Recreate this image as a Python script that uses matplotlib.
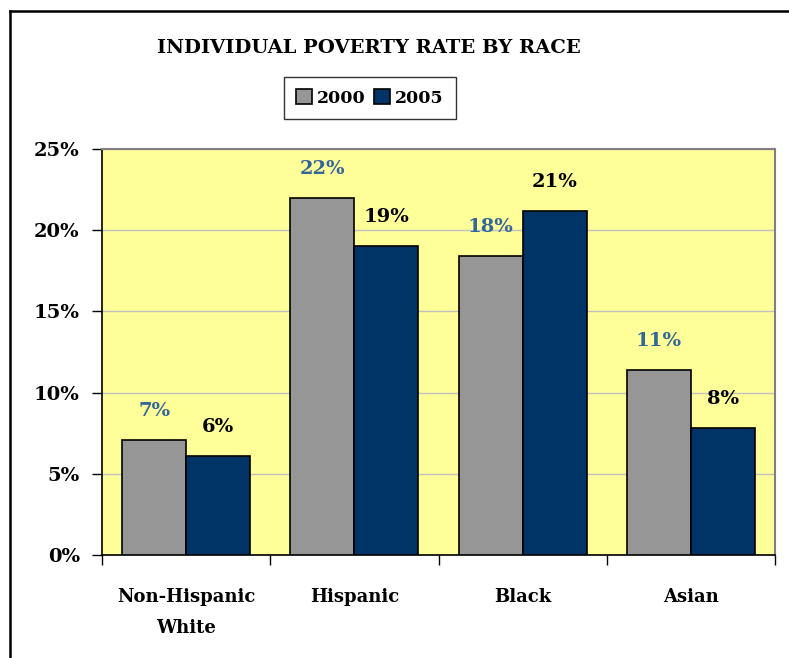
import matplotlib
matplotlib.use("Agg")
import matplotlib.pyplot as plt
from matplotlib.lines import Line2D
from matplotlib.patches import Patch
import numpy as np

categories = ["Non-Hispanic\nWhite", "Hispanic", "Black", "Asian"]
series_names = ["2000", "2005"]
values_2000 = [7.1, 22.0, 18.4, 11.4]
values_2005 = [6.1, 19.0, 21.2, 7.8]
labels_2000 = ["7%", "22%", "18%", "11%"]
labels_2005 = ["6%", "19%", "21%", "8%"]
yticks = [0, 5, 10, 15, 20, 25]
ytick_labels = ["0%", "5%", "10%", "15%", "20%", "25%"]
title = "INDIVIDUAL POVERTY RATE BY RACE"

W, H = 789, 658
fig = plt.figure(figsize=(W / 100, H / 100), dpi=100)
FONT = "DejaVu Serif"

# figure frame (top and left visible)
fig.add_artist(Line2D([10 / W, 1.0], [1 - 11 / H, 1 - 11 / H], transform=fig.transFigure,
                      color="black", lw=1.8))
fig.add_artist(Line2D([10 / W, 10 / W], [0, 1 - 11 / H], transform=fig.transFigure,
                      color="black", lw=1.8))

ax = fig.add_axes([102 / W, (H - 555) / H, (775 - 102) / W, (555 - 149) / H])
ax.set_facecolor("#FFFF99")

x = np.arange(len(categories))
bw = 64 / 168
c2000 = "#969696"
c2005 = "#003366"
ax.bar(x - bw / 2, values_2000, bw, color=c2000, edgecolor="black", lw=1.2, zorder=3)
ax.bar(x + bw / 2, values_2005, bw, color=c2005, edgecolor="black", lw=1.2, zorder=3)

for i in range(len(categories)):
    ax.annotate(labels_2000[i], (x[i] - bw / 2, values_2000[i]), xytext=(0, 21),
                textcoords="offset points", ha="center", va="center",
                fontsize=14, fontweight="bold", family=FONT, color="#336699")
    ax.annotate(labels_2005[i], (x[i] + bw / 2, values_2005[i]), xytext=(0, 21),
                textcoords="offset points", ha="center", va="center",
                fontsize=14, fontweight="bold", family=FONT, color="black")

ax.set_xlim(-0.5, len(categories) - 0.5)
ax.set_ylim(0, 25)
ax.set_yticks(yticks)
ax.set_yticklabels(ytick_labels, fontsize=14, fontweight="bold", family=FONT)
ax.set_xticks(x)
ax.set_xticklabels(categories, fontsize=13, fontweight="bold", family=FONT, linespacing=1.9)
ax.tick_params(axis="x", length=0, pad=24)
ax.set_xticks(np.arange(len(categories) + 1) - 0.5, minor=True)
ax.tick_params(axis="x", which="minor", length=7, width=1, direction="out")
ax.tick_params(axis="y", length=7, width=1, direction="out", pad=9)
ax.grid(axis="y", color="#C0C0C0", lw=1, zorder=0)
ax.set_axisbelow(True)
for s in ["top", "right"]:
    ax.spines[s].set_color("#808080")
    ax.spines[s].set_linewidth(1.5)
for s in ["left", "bottom"]:
    ax.spines[s].set_color("black")
    ax.spines[s].set_linewidth(1.2)

fig.text(369 / W, 1 - 48 / H, title, ha="center", va="center", fontsize=14,
         fontweight="bold", family=FONT)

handles = [Patch(facecolor=c2000, edgecolor="black", lw=1.2),
           Patch(facecolor=c2005, edgecolor="black", lw=1.2)]
leg = fig.legend(handles, series_names, loc="center", bbox_to_anchor=(370 / W, 1 - 98 / H),
                 ncol=2, frameon=True, fancybox=False, edgecolor="black",
                 prop={"family": FONT, "weight": "bold", "size": 12.5},
                 handlelength=0.9, handleheight=0.9, handletextpad=0.3, columnspacing=0.5,
                 borderpad=0.7)
leg.get_frame().set_linewidth(1.0)

fig.savefig("out.png", dpi=100)
